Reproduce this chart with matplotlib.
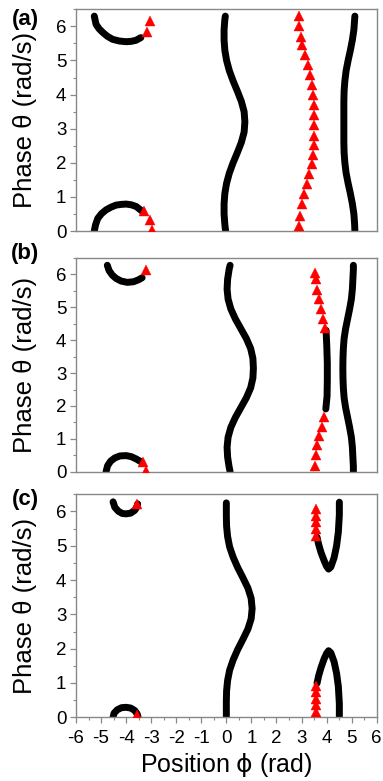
import matplotlib
matplotlib.use("Agg")
import matplotlib.pyplot as plt
from matplotlib.ticker import MultipleLocator

plt.rcParams['font.family'] = ['Liberation Sans', 'DejaVu Sans']
plt.rcParams['axes.unicode_minus'] = False
plt.rcParams['mathtext.fontset'] = 'dejavusans'

# ---- panel (a) ----
a_top_phi = [-5.27, -5.20, -5.08, -4.93, -4.75, -4.54, -4.27, -4.00, -3.80, -3.61, -3.41]
a_top_theta = [6.30, 6.06, 5.93, 5.82, 5.71, 5.62, 5.57, 5.55, 5.56, 5.59, 5.67]
a_bot_phi = [-5.27, -5.22, -5.13, -4.98, -4.80, -4.60, -4.40, -4.20, -4.00, -3.80, -3.60, -3.34]
a_bot_theta = [0.0, 0.18, 0.37, 0.51, 0.62, 0.70, 0.76, 0.78, 0.79, 0.77, 0.72, 0.57]
a_theta = [0.0, 0.2, 0.5, 0.8, 1.1, 1.4, 1.7, 2.0, 2.3, 2.6, 2.9, 3.2,
           3.5, 3.8, 4.1, 4.4, 4.7, 5.0, 5.3, 5.6, 5.9, 6.2, 6.3]
a_mid_phi = [-0.03, -0.06, -0.09, -0.09, -0.06, 0.01, 0.12, 0.27, 0.44, 0.60, 0.71, 0.74,
             0.71, 0.60, 0.44, 0.27, 0.12, 0.01, -0.06, -0.09, -0.09, -0.06, -0.04]
a_right_phi = [5.13, 5.12, 5.09, 5.03, 4.95, 4.86, 4.78, 4.73, 4.70, 4.69, 4.69, 4.69,
               4.69, 4.69, 4.70, 4.73, 4.78, 4.86, 4.95, 5.03, 5.09, 5.12, 5.13]
a_tri_left_phi = [-3.03, -3.17, -3.27, -3.05, -2.98]
a_tri_left_theta = [6.15, 5.84, 0.59, 0.31, 0.04]
a_tri_phi = [2.88, 2.90, 2.96, 3.03, 3.13, 3.24, 3.32, 3.42, 3.46, 3.48, 3.48,
             3.48, 3.48, 3.48, 3.47, 3.41, 3.31, 3.20, 3.10, 3.00, 2.92, 2.89]
a_tri_theta = [6.29, 6.00, 5.70, 5.45, 5.16, 4.86, 4.57, 4.27, 3.98, 3.69, 3.39,
               3.12, 2.80, 2.51, 2.24, 1.97, 1.67, 1.37, 1.08, 0.79, 0.44, 0.15]

# ---- panel (b) ----
b_top_phi = [-4.75, -4.68, -4.55, -4.40, -4.20, -3.95, -3.70, -3.50, -3.36]
b_top_theta = [6.28, 6.12, 5.98, 5.88, 5.80, 5.76, 5.78, 5.84, 5.90]
b_bot_phi = [-4.80, -4.74, -4.62, -4.45, -4.25, -4.00, -3.80, -3.60, -3.40]
b_bot_theta = [0.0, 0.18, 0.32, 0.42, 0.48, 0.49, 0.46, 0.39, 0.30]
b_theta = [0.0, 0.15, 0.45, 0.75, 1.05, 1.35, 1.65, 1.95, 2.25, 2.55, 2.85, 3.15,
           3.45, 3.75, 4.05, 4.35, 4.65, 4.95, 5.25, 5.55, 5.85, 6.15, 6.28]
b_mid_phi = [0.15, 0.11, 0.05, 0.03, 0.07, 0.18, 0.36, 0.58, 0.80, 0.97, 1.06, 1.08,
             1.06, 0.97, 0.80, 0.58, 0.36, 0.18, 0.07, 0.03, 0.05, 0.11, 0.15]
b_right_phi = [5.07, 5.07, 5.05, 5.03, 4.99, 4.92, 4.84, 4.76, 4.70, 4.67, 4.655, 4.65,
               4.655, 4.67, 4.70, 4.76, 4.84, 4.92, 4.99, 5.03, 5.05, 5.07, 5.07]
b_inner_phi = [3.98, 4.01, 4.03, 4.03, 4.02, 3.97]
b_inner_theta = [4.30, 3.80, 3.30, 2.80, 2.30, 1.91]
b_tri_left_phi = [-3.22, -3.31, -3.21]
b_tri_left_theta = [6.15, 0.30, 0.02]
b_tri_phi = [3.55, 3.56, 3.60, 3.69, 3.77, 3.86, 3.95, 3.89, 3.80, 3.70, 3.62, 3.58, 3.55]
b_tri_theta = [6.05, 5.85, 5.53, 5.24, 4.95, 4.66, 4.37, 1.65, 1.37, 1.08, 0.80, 0.50, 0.16]

# ---- panel (c) ----
c_top_phi = [-4.52, -4.45, -4.30, -4.15, -4.00, -3.82, -3.66, -3.56, -3.54]
c_top_theta = [6.28, 6.12, 6.00, 5.94, 5.93, 5.95, 6.03, 6.14, 6.22]
c_bot_phi = [-4.52, -4.48, -4.35, -4.18, -4.00, -3.82, -3.66, -3.56, -3.52]
c_bot_theta = [0.0, 0.12, 0.22, 0.28, 0.29, 0.27, 0.20, 0.10, 0.0]
c_theta = [0.0, 0.17, 0.47, 0.77, 1.07, 1.37, 1.67, 1.97, 2.27, 2.57, 2.87, 3.17,
           3.47, 3.77, 4.07, 4.37, 4.67, 4.97, 5.27, 5.57, 5.87, 6.17, 6.25]
c_mid_phi = [0.0, 0.0, 0.0, 0.01, 0.05, 0.13, 0.27, 0.45, 0.66, 0.86, 0.99, 1.03,
             0.99, 0.86, 0.66, 0.45, 0.27, 0.13, 0.05, 0.01, 0.0, 0.0, 0.0]
c_arch_phi = [3.62, 3.68, 3.78, 3.90, 4.00, 4.08, 4.17, 4.30, 4.40, 4.47, 4.51, 4.51]
c_arch_top_theta = [5.25, 5.05, 4.80, 4.57, 4.40, 4.32, 4.38, 4.65, 5.00, 5.40, 5.90, 6.27]
c_arch_bot_theta = [0.99, 1.20, 1.45, 1.70, 1.86, 1.94, 1.88, 1.62, 1.28, 0.90, 0.40, 0.0]
c_tri_left_phi = [-3.57, -3.57]
c_tri_left_theta = [6.21, 0.08]
c_tri_phi = [3.56] * 10
c_tri_theta = [6.06, 5.87, 5.68, 5.48, 5.28, 0.92, 0.73, 0.54, 0.35, 0.15]

x_ticks = list(range(-6, 7))
y_ticks = list(range(0, 7))

curves = [
    [(a_top_phi, a_top_theta), (a_bot_phi, a_bot_theta),
     (a_mid_phi, a_theta), (a_right_phi, a_theta)],
    [(b_top_phi, b_top_theta), (b_bot_phi, b_bot_theta),
     (b_mid_phi, b_theta), (b_right_phi, b_theta), (b_inner_phi, b_inner_theta)],
    [(c_top_phi, c_top_theta), (c_bot_phi, c_bot_theta), (c_mid_phi, c_theta),
     (c_arch_phi, c_arch_top_theta), (c_arch_phi, c_arch_bot_theta)],
]
triangles = [
    [(a_tri_left_phi, a_tri_left_theta), (a_tri_phi, a_tri_theta)],
    [(b_tri_left_phi, b_tri_left_theta), (b_tri_phi, b_tri_theta)],
    [(c_tri_left_phi, c_tri_left_theta), (c_tri_phi, c_tri_theta)],
]

rects = [[0.1984, 0.7042, 0.7851, 0.2839],
         [0.1984, 0.3960, 0.7851, 0.2736],
         [0.1984, 0.0816, 0.7851, 0.2855]]
letters = ['(a)', '(b)', '(c)']
letter_y = [19, 253, 500]

fig = plt.figure(figsize=(3.83, 7.81), dpi=100)
gray = '#888888'

for i in range(3):
    ax = fig.add_axes(rects[i])
    for phi, th in curves[i]:
        ax.plot(phi, th, color='black', lw=5.0, solid_capstyle='round',
                solid_joinstyle='round', zorder=2)
    for phi, th in triangles[i]:
        ax.plot(phi, th, linestyle='none', marker='^', ms=6.5, color='red',
                mec='red', mew=0.3, zorder=3)

    ax.set_xlim(-6, 6)
    ax.set_ylim(0, 6.5)
    ax.set_yticks(y_ticks)
    ax.yaxis.set_minor_locator(MultipleLocator(0.5))
    for s in ax.spines.values():
        s.set_color(gray)
        s.set_linewidth(1.0)
    ax.tick_params(which='both', direction='out', color=gray, labelsize=13.5,
                   labelcolor='black')
    ax.tick_params(which='major', length=4, width=0.9, pad=3)
    ax.tick_params(which='minor', length=2, width=0.8)
    ax.set_ylabel('Phase θ (rad/s)', fontsize=18.5)
    ax.yaxis.set_label_coords(-0.13, 0.5)

    if i < 2:
        ax.set_xticks([])
        ax.tick_params(axis='x', which='both', bottom=False, labelbottom=False)
    else:
        ax.set_xticks(x_ticks)
        ax.xaxis.set_minor_locator(MultipleLocator(0.5))
        ax.tick_params(axis='x', which='major', pad=5)
        ax.set_xlabel(r'Position $\mathrm{\phi}$ (rad)', fontsize=18)
        ax.xaxis.set_label_coords(0.5, -0.15)

    fig.text(25 / 383, 1 - letter_y[i] / 781, letters[i], fontsize=16,
             fontweight='bold', ha='center', va='center')

fig.savefig('out.png', dpi=100)
